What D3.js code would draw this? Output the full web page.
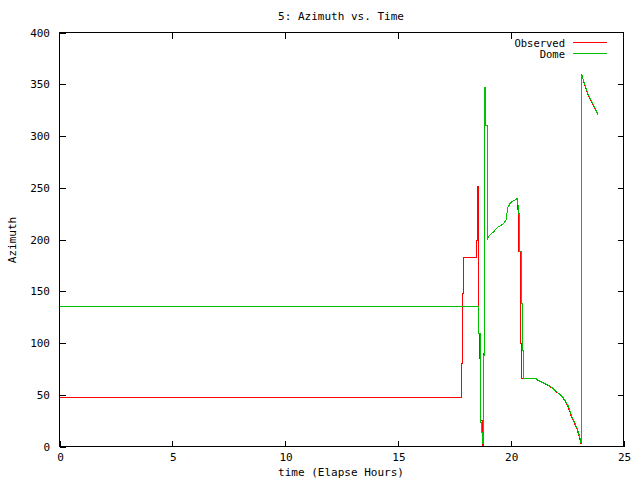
<!DOCTYPE html>
<html>
<head>
<meta charset="utf-8">
<script src="https://cdn.jsdelivr.net/npm/d3@7"></script>
<style>
    body { margin: 0; background: #fff; }
    svg { display: block; }
    text { font-family: "DejaVu Sans Mono", "Liberation Mono", monospace; font-size: 11px; fill: #000; }
    .legend text { font-size: 10.5px; }
</style>
</head>
<body>
<svg id="chart"></svg>
<script>
// Observed azimuth (red): polyline vertices, time in elapsed hours
const obsTime = [0, 17.82, 17.82, 17.85, 17.85, 17.89, 17.89, 18.48, 18.48, 18.53, 18.53, 18.55, 18.55, 18.57, 18.57,
    18.59, 18.59, 18.62, 18.62, 18.64, 18.64, 18.67, 18.67, 18.73, 18.73, 18.81, 18.81, 18.84, 18.84, 18.86, 18.86,
    18.88, 18.88, 18.95, 18.95,
    19.07, 19.22, 19.44, 19.66, 19.80, 19.84, 19.87, 19.93, 19.96, 20.10, 20.22, 20.28, 20.31, 20.33,
    20.35, 20.35, 20.43, 20.43, 20.46, 20.46,
    21.10, 21.28, 21.41, 21.53, 21.71, 21.83, 22.00, 22.18, 22.29, 22.44, 22.52, 22.63, 22.67, 22.81, 22.96, 23.06,
    23.10, 23.13, 23.13, 23.15, 23.15, 23.25, 23.40, 23.48, 23.65, 23.80, 23.88];
const obsAz = [47, 47, 80, 80, 148, 148, 182.5, 182.5, 199, 199, 233, 233, 251, 251, 195,
    195, 109, 109, 85, 85, 57, 57, 25, 25, 1, 1, 90, 90, 262, 262, 345,
    345, 310, 310, 201,
    204, 207, 212, 215, 219, 226, 231, 233, 234.7, 237.3, 238.6, 239.6, 236.3, 225,
    225, 188, 188, 100, 100, 66,
    65.5, 63, 61.6, 60.5, 58.3, 56.5, 53.2, 50, 47.7, 42.5, 39.7, 33, 30, 23.5, 15.5, 7.4,
    3, 3, 181.5, 181.5, 360, 350.8, 341, 337.8, 329.8, 323, 320];

// Dome azimuth (green)
const domeTime = [0, 18.58, 18.58, 18.64, 18.64, 18.70, 18.70, 18.73, 18.73, 18.77, 18.77, 18.81, 18.81, 18.84, 18.84,
    18.86, 18.86, 18.88, 18.88, 18.95, 18.95,
    18.97, 19.07, 19.22, 19.44, 19.66, 19.80, 19.84, 19.87, 19.93, 19.96, 20.10, 20.22, 20.28, 20.31, 20.36,
    20.38, 20.38, 20.47, 20.47, 20.51, 20.51, 20.55, 20.55,
    21.13, 21.30, 21.43, 21.55, 21.73, 21.85, 22.02, 22.20, 22.31, 22.46, 22.54, 22.65, 22.69, 22.83, 22.98, 23.08,
    23.11, 23.13, 23.13, 23.15, 23.15, 23.27, 23.42, 23.50, 23.67, 23.82, 23.88];
const domeAz = [135, 135, 109, 109, 23.5, 23.5, 13.8, 13.8, 5.8, 5.8, 3, 3, 88, 88, 260,
    260, 347, 347, 310, 310, 200,
    201, 204, 207, 212, 215, 219, 226, 231, 233, 234.7, 237.3, 238.6, 239.6, 236.3, 225,
    225, 188, 188, 138, 138, 93, 93, 65.5,
    65.5, 63, 61.6, 60.5, 58.3, 56.5, 53.2, 50, 47.7, 42.5, 39.7, 33, 30, 23.5, 15.5, 7.4,
    4.2, 4.2, 181.5, 181.5, 359.5, 350.8, 341, 337.8, 329.8, 323, 320];

const xTicks = [0, 5, 10, 15, 20, 25];
const yTicks = [0, 50, 100, 150, 200, 250, 300, 350, 400];

const series = [
    {name: 'Observed', color: '#ff0000', time: obsTime, az: obsAz},
    {name: 'Dome', color: '#00c000', time: domeTime, az: domeAz}
];

const width = 640, height = 480;
const plot = {left: 59.5, right: 623.5, top: 32.5, bottom: 446.5};

const svg = d3.select('#chart')
    .attr('width', width)
    .attr('height', height);

const xScale = d3.scaleLinear().domain([0, 25]).range([plot.left, plot.right]);
const yScale = d3.scaleLinear().domain([0, 400]).range([plot.bottom, plot.top]);

// Inward ticks on all four sides, like gnuplot's mirrored tics
const xAxisBottom = d3.axisTop(xScale).tickValues(xTicks).tickSize(6).tickFormat('');
const xAxisTop = d3.axisBottom(xScale).tickValues(xTicks.slice(1, -1)).tickSize(6).tickFormat('');
const yAxisLeft = d3.axisRight(yScale).tickValues(yTicks).tickSize(6).tickFormat('');
const yAxisRight = d3.axisLeft(yScale).tickValues(yTicks.slice(1, -1)).tickSize(6).tickFormat('');

const axes = svg.append('g').attr('class', 'axes');
axes.append('g').attr('transform', `translate(0,${plot.bottom})`).call(xAxisBottom);
axes.append('g').attr('transform', `translate(0,${plot.top})`).call(xAxisTop);
axes.append('g').attr('transform', `translate(${plot.left},0)`).call(yAxisLeft);
axes.append('g').attr('transform', `translate(${plot.right},0)`).call(yAxisRight);
axes.selectAll('.domain').remove();
axes.selectAll('line').attr('stroke', '#000').attr('shape-rendering', 'crispEdges');

// Tick labels
svg.append('g').selectAll('text')
    .data(xTicks)
    .join('text')
    .attr('x', d => xScale(d) + 1)
    .attr('y', 461)
    .attr('text-anchor', 'middle')
    .text(d => d);

svg.append('g').selectAll('text')
    .data(yTicks)
    .join('text')
    .attr('x', 50)
    .attr('y', d => yScale(d) + 4)
    .attr('text-anchor', 'end')
    .text(d => d);

// Data lines (aliased, like the gnuplot png output)
const line = d3.line()
    .x(d => xScale(d[0]))
    .y(d => yScale(d[1]));

svg.append('g').selectAll('path')
    .data(series)
    .join('path')
    .attr('fill', 'none')
    .attr('stroke', d => d.color)
    .attr('stroke-width', 1)
    .attr('shape-rendering', 'crispEdges')
    .attr('d', d => line(d.time.map((t, i) => [t, d.az[i]])));

// Border box
svg.append('rect')
    .attr('x', plot.left)
    .attr('y', plot.top)
    .attr('width', plot.right - plot.left)
    .attr('height', plot.bottom - plot.top)
    .attr('fill', 'none')
    .attr('stroke', '#000')
    .attr('shape-rendering', 'crispEdges');

// Legend
const legend = svg.append('g').attr('class', 'legend').selectAll('g')
    .data(series)
    .join('g')
    .attr('transform', (d, i) => `translate(0,${42.5 + i * 11})`);
legend.append('text')
    .attr('x', 565)
    .attr('y', 4)
    .attr('text-anchor', 'end')
    .text(d => d.name);
legend.append('line')
    .attr('x1', 573)
    .attr('x2', 607)
    .attr('stroke', d => d.color)
    .attr('shape-rendering', 'crispEdges');

// Titles
svg.append('text')
    .attr('x', 341)
    .attr('y', 20)
    .attr('text-anchor', 'middle')
    .text('5: Azimuth vs. Time');

svg.append('text')
    .attr('x', 341)
    .attr('y', 476)
    .attr('text-anchor', 'middle')
    .text('time (Elapse Hours)');

svg.append('text')
    .attr('transform', 'translate(16,240) rotate(-90)')
    .attr('text-anchor', 'middle')
    .text('Azimuth');
</script>
</body>
</html>
